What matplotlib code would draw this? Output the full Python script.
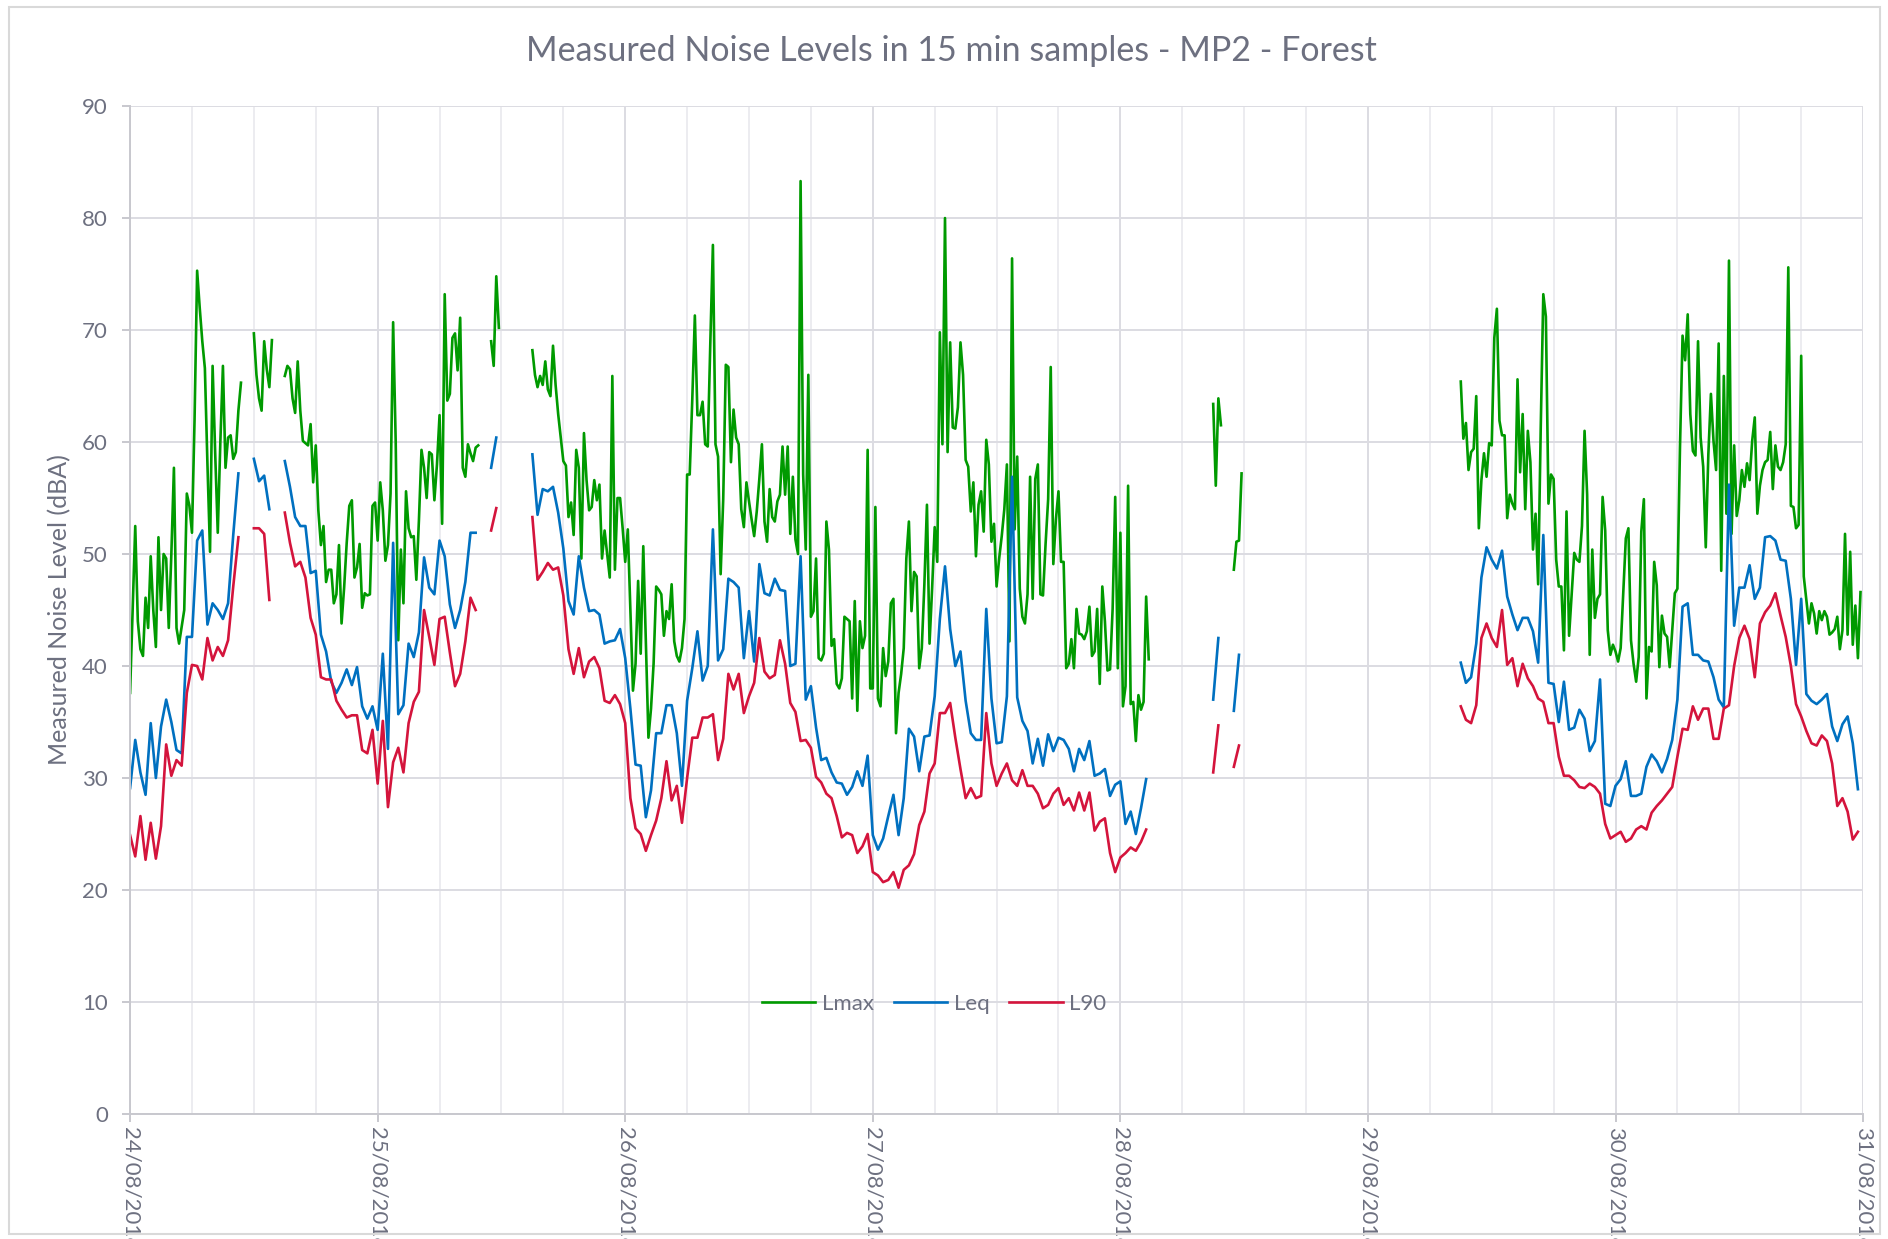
import numpy as np
import pandas as pd
import matplotlib
matplotlib.use('Agg')
import matplotlib.pyplot as plt
import matplotlib.dates as mdates
from matplotlib.patches import Rectangle

N = np.nan

# Lmax, 15 min samples, one list per day (96 values, NaN = no data)
lmax_24 = [37.6, 45, 52.5, 44, 41.5, 40.9, 46.1, 43.4, 49.8, 45, 41.7, 51.5, 45, 50, 49.6, 43.4,
           50, 57.7, 43.4, 42, 43.5, 45, 55.4, 54.3, 51.9, 62, 75.3, 72, 69, 66.6, 58, 50.2,
           66.8, 59, 51.9, 60, 66.8, 57.7, 60.4, 60.6, 58.5, 59.1, 62.8, 65.3, N, N, N, N,
           69.7, 66, 63.9, 62.8, 69, 66.5, 64.9, 69.1, N, N, N, N, 65.9, 66.8, 66.5, 63.9,
           62.6, 67.2, 62.8, 60.1, 59.9, 59.7, 61.6, 56.4, 59.7, 53.9, 50.8, 52.5, 47.5, 48.6, 48.6, 45.6,
           46.4, 50.8, 43.8, 47, 51, 54.3, 54.8, 47.9, 48.8, 50.9, 45.2, 46.5, 46.3, 46.4, 54.3, 54.6]
lmax_25 = [51.2, 56.4, 53.9, 49.4, 50.8, 55.4, 70.7, 60, 42.3, 50.4, 45.6, 55.6, 52.3, 51.5, 51.6, 47.7,
           53, 59.3, 57.7, 55, 59.1, 58.9, 54.8, 58, 62.4, 52.7, 73.2, 63.7, 64.3, 69.3, 69.7, 66.4,
           71.1, 57.7, 56.9, 59.8, 59, 58.3, 59.5, 59.7, N, N, N, N, 69, 66.8, 74.8, 70.2,
           N, N, N, N, N, N, N, N, N, N, N, N, 68.2, 66, 64.9, 65.9,
           65.1, 67.2, 64.7, 64.1, 68.6, 65.1, 62.5, 60.4, 58.3, 57.9, 53.3, 54.6, 51.7, 59.3, 57.7, 49.6,
           60.8, 56.6, 53.9, 54.2, 56.6, 54.8, 56.2, 49.6, 52.1, 50, 47.9, 65.9, 48.6, 55, 55, 52.3]
lmax_26 = [49.3, 52.2, 45.1, 37.8, 40.2, 47.6, 41.1, 50.7, 42.2, 33.6, 36.2, 40.2, 47.1, 46.8, 46.4, 42.7,
           44.9, 44.2, 47.3, 42.2, 40.9, 40.4, 41.6, 44.2, 57.1, 57.1, 63.8, 71.3, 62.4, 62.4, 63.6, 59.8,
           59.6, 68.9, 77.6, 59.8, 58.7, 48.2, 54.9, 66.9, 66.7, 58.2, 62.9, 60.4, 59.8, 54, 52.4, 56.4,
           54.7, 53.1, 51.6, 53.8, 56.7, 59.8, 52.9, 51.1, 55.8, 53.3, 52.9, 54.7, 55.3, 59.6, 55.3, 59.6,
           51.8, 56.9, 51.3, 50, 83.3, 57.1, 50.4, 66, 44.4, 44.9, 49.6, 40.7, 40.5, 41.1, 52.9, 50.4,
           41.8, 42.4, 38.4, 38, 38.9, 44.4, 44.2, 44, 37.1, 45.8, 36, 44, 41.6, 42.7, 59.3, 38]
lmax_27 = [38, 54.2, 37.1, 36.4, 41.6, 39.1, 40.4, 45.6, 46, 34, 37.6, 39.3, 41.6, 49.6, 52.9, 44.9,
           48.4, 48, 39.8, 41.6, 47.3, 54.4, 42, 46.9, 52.4, 49.3, 69.8, 59.8, 80, 59.1, 68.9, 61.3,
           61.2, 63.1, 68.9, 66, 58.4, 57.8, 53.8, 56.4, 49.8, 54.4, 55.6, 52, 60.2, 58, 51.1, 52.7,
           47.1, 49.6, 51.6, 54, 58, 42.2, 76.4, 52.2, 58.7, 46.9, 44.4, 43.8, 46.4, 56.9, 46, 56.7,
           58, 46.4, 46.3, 50.9, 54.9, 66.7, 49.1, 53.1, 55.6, 49.3, 49.3, 39.8, 40.2, 42.4, 39.8, 45.1,
           42.9, 42.8, 42.4, 43.1, 45.3, 40.9, 41.3, 45.1, 38.4, 47.1, 44, 39.6, 39.7, 45.1, 55.1, 39.8]
lmax_28 = ([51.9, 36.4, 38.2, 56.1, 36.6, 36.8, 33.3, 37.4, 36.1, 36.8, 46.2, 40.6] + [N] * 24
           + [63.4, 56.1, 63.9, 61.5] + [N] * 4 + [48.6, 51.1, 51.2, 57.2] + [N] * 48)
lmax_29 = [N] * 36 + [65.4, 60.3, 61.7, 57.5, 59.1, 59.4, 64.1, 52.3, 56.6, 59, 56.9, 59.9,
                      59.7, 69.3, 71.9, 61.9, 60.6, 60.6, 53.2, 55.3, 54.5, 54, 65.6, 57.3,
                      62.5, 54, 61, 58.2, 50.4, 53.6, 47.3, 61.2, 73.2, 71.2, 54.5, 57.1,
                      56.7, 49.5, 47.1, 47.1, 41.4, 53.8, 42.7, 46.4, 50.1, 49.5, 49.3, 52.5,
                      61, 55.3, 41, 50.4, 44.3, 46, 46.4, 55.1, 52.1, 43.2, 41, 41.9]
lmax_30 = [41.3, 40.4, 41.6, 46.5, 51.4, 52.3, 42.3, 40.2, 38.6, 40.8, 52, 54.9, 37.1, 41.7, 41.3, 49.3,
           47.2, 39.9, 44.5, 42.9, 42.6, 39.9, 43.2, 46.5, 46.9, 59.5, 69.5, 67.3, 71.4, 62.5, 59.2, 58.8,
           69, 60.4, 57.8, 50.6, 58.9, 64.3, 60.1, 57.5, 68.8, 48.5, 65.9, 53.6, 76.2, 51.8, 59.7, 53.4,
           54.8, 57.5, 56, 58.1, 56.6, 60.1, 62.2, 53.6, 56.1, 57.5, 58.2, 58.4, 60.9, 55.8, 59.7, 57.8,
           57.5, 58.2, 59.8, 75.6, 54.3, 54.2, 52.3, 52.6, 67.7, 48, 45.9, 43.8, 45.6, 44.7, 42.9, 44.9,
           44.1, 44.9, 44.4, 42.8, 43, 43.3, 44.4, 41.5, 43.2, 51.8, 42.8, 50.2, 41.9, 45.4, 40.7, 46.6]

# Leq and L90, read every 30 min (48 values per day)
leq_24 = [29.1, 33.4, 30.5, 28.5, 34.9, 30, 34.6, 37, 35, 32.5, 32.2, 42.6, 42.6, 51.2, 52.1, 43.7,
          45.6, 45, 44.2, 45.6, 51.7, 57.2, N, N, 58.5, 56.5, 57, 54, N, N, 58.3, 56,
          53.3, 52.5, 52.5, 48.3, 48.5, 42.8, 41.3, 38.6, 37.6, 38.5, 39.7, 38.3, 39.9, 36.4, 35.3, 36.4]
leq_25 = [34.3, 41.1, 32.6, 51, 35.7, 36.5, 42, 40.8, 43, 49.7, 47, 46.4, 51.2, 49.8, 45.5, 43.4,
          45, 47.5, 51.9, 51.9, N, N, 57.7, 60.4, N, N, N, N, N, N, 58.9, 53.5,
          55.8, 55.6, 56, 53.7, 50.5, 45.8, 44.6, 49.8, 47, 44.9, 45, 44.6, 42, 42.2, 42.3, 43.3]
leq_26 = [40.7, 36.2, 31.2, 31.1, 26.5, 28.9, 34, 34, 36.5, 36.5, 34, 29.3, 36.9, 39.8, 43.1, 38.7,
          40, 52.2, 40.5, 41.5, 47.8, 47.5, 47, 40.7, 44.9, 40.4, 49.1, 46.5, 46.3, 47.8, 46.8, 46.7,
          40, 40.2, 49.8, 37, 38.2, 34.5, 31.6, 31.8, 30.5, 29.6, 29.5, 28.5, 29.2, 30.6, 29.3, 32]
leq_27 = [24.9, 23.6, 24.6, 26.6, 28.5, 24.9, 28.2, 34.4, 33.7, 30.6, 33.7, 33.8, 37.3, 44.2, 48.9, 43.3,
          40, 41.3, 36.9, 34, 33.4, 33.4, 45.1, 37.1, 33.1, 33.2, 37.3, 56.9, 37.2, 35.1, 34.2, 31.3,
          33.5, 31.1, 33.9, 32.4, 33.6, 33.4, 32.6, 30.6, 32.6, 31.6, 33.3, 30.2, 30.4, 30.8, 28.4, 29.4]
leq_28 = [29.7, 25.9, 27, 25, 27.3, 29.9] + [N] * 12 + [37, 42.5, N, N, 36, 41] + [N] * 24
leq_29 = [N] * 18 + [40.3, 38.5, 39, 42, 47.9, 50.6, 49.5, 48.7, 50.3, 46.2, 44.6, 43.2, 44.3, 44.3, 43.1,
                     40.3, 51.7, 38.5, 38.4, 35, 38.6, 34.3, 34.5, 36.1, 35.3, 32.4, 33.3, 38.8, 27.7, 27.5]
leq_30 = [29.3, 29.9, 31.5, 28.4, 28.4, 28.6, 31, 32.1, 31.5, 30.5, 31.7, 33.4, 37, 45.3, 45.6, 41,
          41, 40.5, 40.4, 39, 37, 36.3, 56.2, 43.6, 47, 47, 49, 46, 47, 51.5, 51.6, 51.2,
          49.5, 49.4, 46, 40.1, 46, 37.5, 36.9, 36.6, 37, 37.5, 34.6, 33.3, 34.8, 35.5, 33.1, 29]

l90_24 = [24.9, 23, 26.6, 22.7, 26, 22.8, 25.7, 33, 30.2, 31.6, 31.1, 37.6, 40.1, 40, 38.8, 42.5,
          40.5, 41.7, 40.9, 42.3, 47.1, 51.5, N, N, 52.3, 52.3, 51.8, 45.9, N, N, 53.7, 51,
          48.9, 49.3, 47.9, 44.3, 42.8, 39, 38.8, 38.8, 36.9, 36.1, 35.4, 35.6, 35.6, 32.5, 32.2, 34.3]
l90_25 = [29.5, 35.1, 27.4, 31.4, 32.7, 30.5, 34.9, 36.8, 37.7, 45, 42.6, 40.1, 44.2, 44.4, 41.2, 38.2,
          39.3, 42.2, 46.1, 45, N, N, 52.1, 54.1, N, N, N, N, N, N, 53.3, 47.7,
          48.4, 49.2, 48.6, 48.8, 46.3, 41.5, 39.3, 41.6, 39, 40.4, 40.8, 39.8, 36.9, 36.7, 37.4, 36.6]
l90_26 = [34.9, 28.2, 25.5, 25, 23.5, 24.9, 26.2, 28.2, 31.5, 28, 29.3, 26, 30, 33.6, 33.6, 35.4,
          35.4, 35.7, 31.6, 33.5, 39.3, 37.9, 39.3, 35.8, 37.3, 38.5, 42.5, 39.5, 38.9, 39.2, 42.3, 40.2,
          36.7, 35.9, 33.3, 33.4, 32.7, 30.1, 29.6, 28.6, 28.2, 26.6, 24.7, 25.1, 24.9, 23.3, 23.9, 25]
l90_27 = [21.6, 21.3, 20.7, 20.9, 21.6, 20.2, 21.8, 22.2, 23.2, 25.8, 27, 30.4, 31.3, 35.8, 35.8, 36.7,
          33.6, 30.8, 28.2, 29.1, 28.2, 28.4, 35.8, 31.3, 29.3, 30.4, 31.3, 29.8, 29.3, 30.7, 29.3, 29.3,
          28.6, 27.3, 27.6, 28.6, 29.1, 27.6, 28.2, 27.1, 28.7, 27.1, 28.7, 25.3, 26.1, 26.4, 23.3, 21.6]
l90_28 = [22.9, 23.3, 23.8, 23.5, 24.3, 25.4] + [N] * 12 + [30.5, 34.7, N, N, 31, 32.9] + [N] * 24
l90_29 = [N] * 18 + [36.4, 35.2, 34.9, 36.5, 42.5, 43.8, 42.5, 41.7, 45, 40.1, 40.7, 38.2, 40.2, 38.9, 38.2,
                     37.1, 36.8, 34.9, 34.9, 31.9, 30.2, 30.2, 29.8, 29.2, 29.1, 29.5, 29.2, 28.6, 25.9, 24.6]
l90_30 = [24.9, 25.2, 24.3, 24.6, 25.4, 25.7, 25.4, 26.9, 27.5, 28, 28.6, 29.2, 31.9, 34.4, 34.3, 36.4,
          35.2, 36.2, 36.2, 33.5, 33.5, 36.2, 36.5, 40, 42.5, 43.6, 42.4, 39, 43.8, 44.8, 45.4, 46.5,
          44.5, 42.6, 40, 36.6, 35.5, 34.2, 33.1, 32.9, 33.8, 33.3, 31.3, 27.5, 28.2, 27, 24.5, 25.2]

lmax = np.array(lmax_24 + lmax_25 + lmax_26 + lmax_27 + lmax_28 + lmax_29 + lmax_30, dtype=float)
leq = np.array(leq_24 + leq_25 + leq_26 + leq_27 + leq_28 + leq_29 + leq_30, dtype=float)
l90 = np.array(l90_24 + l90_25 + l90_26 + l90_27 + l90_28 + l90_29 + l90_30, dtype=float)
assert len(lmax) == 672 and len(leq) == 336 and len(l90) == 336

t15 = pd.date_range('2018-08-24', periods=len(lmax), freq='15min')
t30 = pd.date_range('2018-08-24', periods=len(leq), freq='30min')

plt.rcParams['font.family'] = ['Lato', 'DejaVu Sans']
txt = '#6d7080'
grid_major = '#dcdce2'
grid_minor = '#ececf0'

fig = plt.figure(figsize=(18.88, 12.39), dpi=100)
ax = fig.add_axes([0.0689, 0.1009, 0.9179, 0.8135])

ax.plot(t15, lmax, color='#009a00', lw=1.9, label='Lmax')
ax.plot(t30, leq, color='#0070c0', lw=1.9, label='Leq')
ax.plot(t30, l90, color='#d4143c', lw=1.9, label='L90')

ax.set_xlim(pd.Timestamp('2018-08-24'), pd.Timestamp('2018-08-31'))
ax.set_ylim(0, 90)
ax.set_yticks(range(0, 91, 10))
ax.xaxis.set_major_locator(mdates.DayLocator())
ax.xaxis.set_major_formatter(mdates.DateFormatter('%d/%m/%Y'))
ax.xaxis.set_minor_locator(mdates.HourLocator(byhour=[6, 12, 18]))

ax.grid(which='major', axis='both', color=grid_major, lw=1.4)
ax.grid(which='minor', axis='x', color=grid_minor, lw=1.4)
ax.set_axisbelow(True)
for s in ['top', 'right']:
    ax.spines[s].set_visible(False)
for s in ['left', 'bottom']:
    ax.spines[s].set_color('#c8c8ce')
    ax.spines[s].set_linewidth(1.4)

ax.tick_params(axis='both', which='major', colors='#c8c8ce', labelcolor=txt,
               labelsize=16, length=6, width=1.4)
ax.tick_params(axis='x', which='minor', length=0)
ax.tick_params(axis='y', pad=10)
for lab in ax.get_xticklabels():
    lab.set_rotation(270)
    lab.set_ha('center')
    lab.set_va('top')

ax.set_ylabel('Measured Noise Level (dBA)', fontsize=18, color=txt)
ax.yaxis.set_label_coords(-0.034, 0.5)

fig.text(0.5037, 0.9588, 'Measured Noise Levels in 15 min samples - MP2 - Forest',
         ha='center', va='center', fontsize=24.5, color=txt)

fig.legend(loc='center', bbox_to_anchor=(0.4947, 0.19), ncol=3, frameon=False,
           fontsize=16, labelcolor=txt, handlelength=2.4, handletextpad=0.3,
           columnspacing=0.9)

fig.patches.append(Rectangle((0.005, 0.004), 0.991, 0.99, transform=fig.transFigure,
                             fill=False, edgecolor='#d9d9d9', lw=1.5))

fig.savefig('out.png', dpi=100)
